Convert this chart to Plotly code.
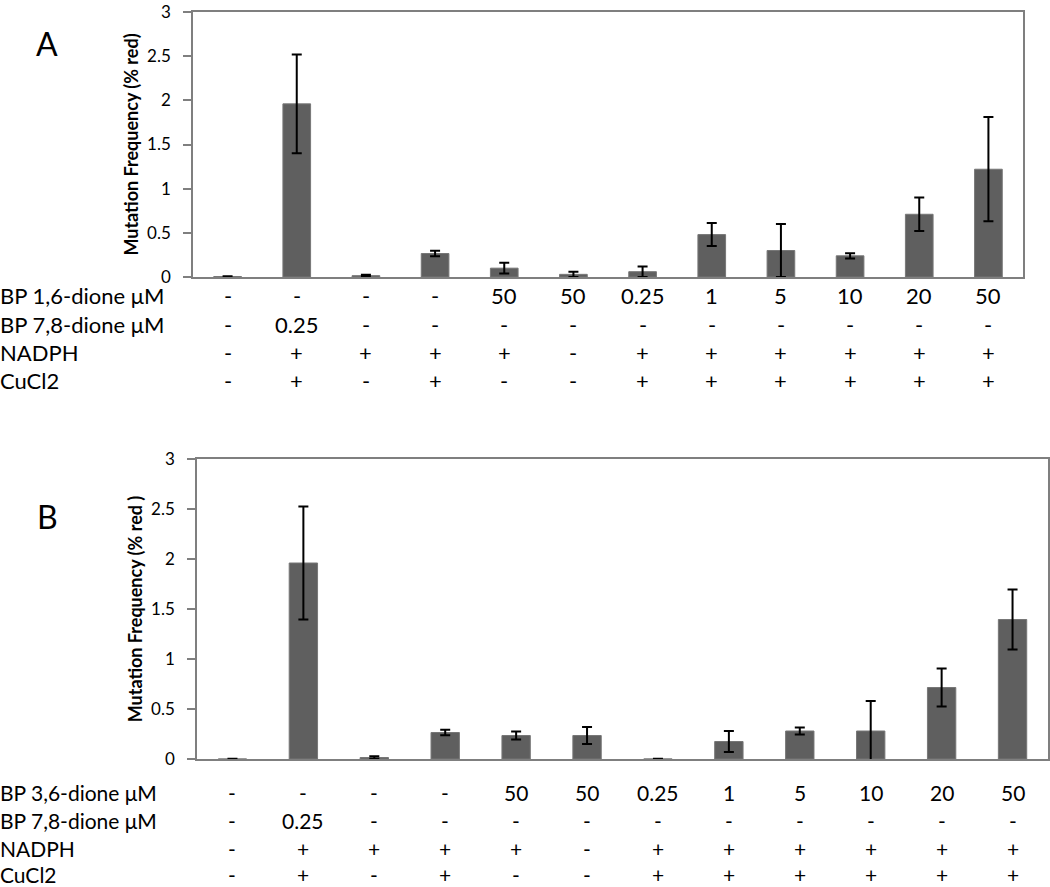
import plotly.graph_objects as go

# ---------------- data ----------------
cols = list(range(12))

a_values = [0.005, 1.96, 0.015, 0.266, 0.10, 0.03, 0.06, 0.48, 0.30, 0.24, 0.71, 1.22]
a_errors = [0.003, 0.56, 0.010, 0.030, 0.06, 0.03, 0.06, 0.13, 0.30, 0.03, 0.19, 0.59]

b_values = [0.0, 1.96, 0.015, 0.265, 0.235, 0.235, 0.0, 0.175, 0.28, 0.28, 0.715, 1.395]
b_errors = [0.002, 0.565, 0.012, 0.027, 0.040, 0.085, 0.003, 0.105, 0.035, 0.30, 0.19, 0.30]

a_row_labels = ["BP 1,6-dione μM", "BP 7,8-dione μM", "NADPH", "CuCl2"]
b_row_labels = ["BP 3,6-dione μM", "BP 7,8-dione μM", "NADPH", "CuCl2"]

a_dione = ["-", "-", "-", "-", "50", "50", "0.25", "1", "5", "10", "20", "50"]
b_dione = ["-", "-", "-", "-", "50", "50", "0.25", "1", "5", "10", "20", "50"]
bp78 = ["-", "0.25", "-", "-", "-", "-", "-", "-", "-", "-", "-", "-"]
nadph = ["-", "+", "+", "+", "+", "-", "+", "+", "+", "+", "+", "+"]
cucl2 = ["-", "+", "-", "+", "-", "-", "+", "+", "+", "+", "+", "+"]

y_ticks = [0, 0.5, 1, 1.5, 2, 2.5, 3]
y_ticktext = ["0", "0.5", "1", "1.5", "2", "2.5", "3"]

# ---------------- figure ----------------
W, H = 1050, 887
FONT = "Lato"
bar_color = "#5f5f5f"

fig = go.Figure()
fig.add_trace(go.Bar(
    x=cols, y=a_values, xaxis="x", yaxis="y",
    marker=dict(color=bar_color, line=dict(color="#777777", width=1)),
    error_y=dict(type="data", array=a_errors, visible=True, color="black", thickness=2, width=5),
    showlegend=False, hoverinfo="y",
))
fig.add_trace(go.Bar(
    x=cols, y=b_values, xaxis="x2", yaxis="y2",
    marker=dict(color=bar_color, line=dict(color="#777777", width=1)),
    error_y=dict(type="data", array=b_errors, visible=True, color="black", thickness=2, width=5),
    showlegend=False, hoverinfo="y",
))

def py(p):
    return 1 - p / H

axis_common = dict(showgrid=False, zeroline=False, showline=True, linecolor="#7f7f7f",
                   linewidth=1.5, mirror=True, automargin=False)

yaxis_common = dict(range=[0, 3], tickvals=y_ticks, ticktext=y_ticktext,
                    ticks="outside", ticklen=8, tickcolor="#7f7f7f", tickwidth=1.5,
                    ticklabelstandoff=9, ticklabeloverflow="allow",
                    tickfont=dict(size=17, family=FONT))

fig.update_layout(
    width=W, height=H,
    margin=dict(l=0, r=0, t=0, b=0, autoexpand=False),
    paper_bgcolor="white", plot_bgcolor="white",
    bargap=0.6,
    font=dict(family=FONT, color="black"),
    xaxis=dict(domain=[193 / W, 1023 / W], range=[-0.5, 11.5], showticklabels=False,
               ticks="", anchor="y", **axis_common),
    yaxis=dict(domain=[py(277), py(12)], anchor="x",
               title=dict(text="<b>Mutation Frequency (% red)</b>", font=dict(size=18, family=FONT),
                          standoff=4),
               **yaxis_common, **axis_common),
    xaxis2=dict(domain=[197 / W, 1048 / W], range=[-0.5, 11.5], showticklabels=False,
                ticks="", anchor="y2", **axis_common),
    yaxis2=dict(domain=[py(759), py(459)], anchor="x2",
                title=dict(text="<b>Mutation Frequency (% red )</b>", font=dict(size=18, family=FONT),
                           standoff=4),
                **yaxis_common, **axis_common),
)

ann = []
# panel letters
ann.append(dict(text="A", x=47 / W, y=py(43), xref="paper", yref="paper", showarrow=False,
                font=dict(size=32, family=FONT), xanchor="center", yanchor="middle"))
ann.append(dict(text="B", x=47 / W, y=py(516), xref="paper", yref="paper", showarrow=False,
                font=dict(size=32, family=FONT), xanchor="center", yanchor="middle"))

def add_table(xref, labels, rows, ys, ts):
    for lab, row, yy in zip(labels, rows, ys):
        ann.append(dict(text=lab, x=0, y=py(yy), xref="paper", yref="paper", showarrow=False,
                        xanchor="left", yanchor="middle", xshift=-2,
                        font=dict(size=ts, family=FONT)))
        for c, t in zip(cols, row):
            ann.append(dict(text=t, x=c, y=py(yy), xref=xref, yref="paper", showarrow=False,
                            xanchor="center", yanchor="middle", font=dict(size=ts, family=FONT)))

add_table("x", a_row_labels, [a_dione, bp78, nadph, cucl2], [296, 324, 352, 381], 22)
add_table("x2", b_row_labels, [b_dione, bp78, nadph, cucl2], [792, 820, 848, 874], 21)

fig.update_layout(annotations=ann)
fig.write_html(
    "out.html",
    config={"displayModeBar": False},
    post_script="document.body.style.margin='0';document.body.style.overflow='hidden';",
)
